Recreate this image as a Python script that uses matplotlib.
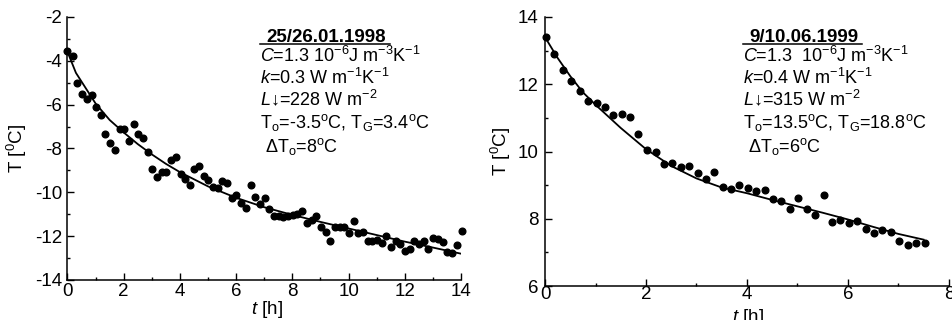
import matplotlib
matplotlib.use("Agg")
import matplotlib.pyplot as plt
from matplotlib.lines import Line2D
from matplotlib.ticker import MultipleLocator
from matplotlib.transforms import IdentityTransform

plt.rcParams['font.family'] = ['Liberation Sans', 'DejaVu Sans']
plt.rcParams['axes.unicode_minus'] = False
plt.rcParams['mathtext.fontset'] = 'custom'
plt.rcParams['mathtext.rm'] = 'Liberation Sans'
plt.rcParams['mathtext.it'] = 'Liberation Sans:italic'
plt.rcParams['mathtext.bf'] = 'Liberation Sans:bold'

# --- 25/26.01.1998 : medidas y ajuste ---
t_jan = [0.0, 0.19, 0.34, 0.52, 0.69, 0.86, 1.02, 1.19, 1.35, 1.52, 1.69, 1.85,
         2.02, 2.19, 2.35, 2.52, 2.69, 2.85, 3.02, 3.18, 3.35, 3.52, 3.68, 3.85,
         4.02, 4.18, 4.35, 4.51, 4.68, 4.85, 5.01, 5.18, 5.34, 5.51, 5.68, 5.84,
         6.01, 6.18, 6.34, 6.51, 6.68, 6.84, 7.01, 7.18, 7.34, 7.51, 7.68, 7.84,
         8.01, 8.18, 8.34, 8.51, 8.68, 8.85, 9.01, 9.18, 9.35, 9.51, 9.68, 9.85,
         10.01, 10.18, 10.35, 10.51, 10.68, 10.84, 11.01, 11.18, 11.34, 11.51,
         11.68, 11.84, 12.01, 12.18, 12.34, 12.51, 12.68, 12.84, 13.01, 13.18,
         13.34, 13.51, 13.68, 13.84, 14.04]
T_jan = [-3.54, -3.80, -5.02, -5.51, -5.76, -5.54, -6.12, -6.46, -7.36, -7.77,
         -8.08, -7.13, -7.10, -7.65, -6.90, -7.34, -7.50, -8.15, -8.95, -9.30,
         -9.07, -9.07, -8.53, -8.38, -9.15, -9.37, -9.68, -8.92, -8.80, -9.27,
         -9.42, -9.76, -9.80, -9.48, -9.59, -10.24, -10.14, -10.49, -10.72, -9.65,
         -10.21, -10.52, -10.24, -10.75, -11.10, -11.10, -11.13, -11.10, -11.05,
         -11.01, -10.85, -11.40, -11.28, -11.08, -11.56, -11.82, -12.20, -11.56,
         -11.56, -11.59, -11.85, -11.33, -11.85, -11.79, -12.23, -12.23, -12.17,
         -12.32, -11.97, -12.50, -12.23, -12.35, -12.66, -12.58, -12.23, -12.35,
         -12.20, -12.58, -12.08, -12.12, -12.27, -12.73, -12.78, -12.40, -11.77]
t_fit_jan = [0.05, 0.3, 0.6, 1.0, 1.5, 2.0, 2.5, 3.0, 3.5, 4.0, 5.0, 6.0, 7.0,
             8.0, 9.0, 10.0, 11.0, 12.0, 13.0, 14.0]
T_fit_jan = [-3.75, -4.55, -5.15, -5.95, -6.7, -7.27, -7.8, -8.27, -8.7, -9.08,
             -9.73, -10.25, -10.68, -11.03, -11.35, -11.65, -11.95, -12.25,
             -12.52, -12.8]

# --- 9/10.06.1999 ---
t_jun = [0.01, 0.18, 0.35, 0.52, 0.69, 0.85, 1.02, 1.19, 1.35, 1.52, 1.68, 1.85,
         2.01, 2.19, 2.35, 2.52, 2.69, 2.85, 3.02, 3.18, 3.35, 3.52, 3.69, 3.85,
         4.02, 4.18, 4.35, 4.52, 4.68, 4.85, 5.02, 5.19, 5.35, 5.52, 5.69, 5.85,
         6.02, 6.18, 6.35, 6.52, 6.68, 6.85, 7.02, 7.19, 7.35, 7.52]
T_jun = [13.40, 12.91, 12.43, 12.11, 11.81, 11.51, 11.43, 11.33, 11.10, 11.13,
         11.04, 10.51, 10.06, 10.00, 9.62, 9.65, 9.53, 9.56, 9.35, 9.19, 9.39,
         8.94, 8.90, 8.99, 8.91, 8.82, 8.85, 8.58, 8.52, 8.30, 8.62, 8.30, 8.10,
         8.70, 7.90, 7.95, 7.87, 7.94, 7.70, 7.59, 7.67, 7.60, 7.33, 7.23, 7.27,
         7.29]
t_fit_jun = [0.02, 0.25, 0.5, 0.75, 1.0, 1.5, 2.0, 2.5, 3.0, 3.5, 4.0, 4.5, 5.0,
             5.5, 6.0, 6.5, 7.0, 7.5]
T_fit_jun = [13.35, 12.78, 12.24, 11.76, 11.39, 10.70, 10.07, 9.57, 9.20, 8.93,
             8.76, 8.56, 8.37, 8.18, 7.98, 7.76, 7.55, 7.38]

lines_jan = [r'$C$=1.3 10$^{-6}$J m$^{-3}$K$^{-1}$',
             r'$k$=0.3 W m$^{-1}$K$^{-1}$',
             '$L$\u2193=228 W m$^{-2}$',
             r'T$_{\rm o}$=-3.5$^{\rm o}$C, T$_{\rm G}$=3.4$^{\rm o}$C',
             r' $\Delta$T$_{\rm o}$=8$^{\rm o}$C']
lines_jun = [r'$C$=1.3  10$^{-6}$J m$^{-3}$K$^{-1}$',
             r'$k$=0.4 W m$^{-1}$K$^{-1}$',
             '$L$\u2193=315 W m$^{-2}$',
             r'T$_{\rm o}$=13.5$^{\rm o}$C, T$_{\rm G}$=18.8$^{\rm o}$C',
             r' $\Delta$T$_{\rm o}$=6$^{\rm o}$C']

fig = plt.figure(figsize=(9.52, 3.2), dpi=100)
ax1 = fig.add_axes([0.0709, 0.125, 0.4134, 0.822])
ax2 = fig.add_axes([0.5725, 0.106, 0.4243, 0.841])


def estilo(ax, xlim, ylim, xmaj, ymaj, xpad, ypad):
    ax.set_xlim(*xlim)
    ax.set_ylim(*ylim)
    ax.xaxis.set_major_locator(MultipleLocator(xmaj))
    ax.xaxis.set_minor_locator(MultipleLocator(xmaj / 2))
    ax.yaxis.set_major_locator(MultipleLocator(ymaj))
    ax.yaxis.set_minor_locator(MultipleLocator(ymaj / 2))
    ax.spines['top'].set_visible(False)
    ax.spines['right'].set_visible(False)
    for s in ['left', 'bottom']:
        ax.spines[s].set_linewidth(1.1)
    ax.tick_params(which='major', direction='in', length=4.8, width=1.0,
                   labelsize=13.5)
    ax.tick_params(which='minor', direction='in', length=2.4, width=1.0)
    ax.tick_params(axis='x', which='major', pad=xpad)
    ax.tick_params(axis='y', which='major', pad=ypad)


estilo(ax1, (0, 14), (-14, -2), 2, 2, 2.0, 4.0)
estilo(ax2, (0, 8), (6, 14), 2, 2, 0.3, 4.8)

for ax, t, T, tf, Tf in [(ax1, t_jan, T_jan, t_fit_jan, T_fit_jan),
                         (ax2, t_jun, T_jun, t_fit_jun, T_fit_jun)]:
    ax.plot(t, T, 'o', color='black', markersize=4.8, clip_on=False, zorder=3)
    ax.plot(tf, Tf, '-', color='black', linewidth=1.3)
    ax.set_ylabel(r'T [$^{0}$C]', fontsize=13.5)
    ax.set_xlabel(r'$t$ [h]', fontsize=13.5)

ax1.yaxis.set_label_coords(-0.097, 0.5)
ax1.xaxis.set_label_coords(0.506, -0.072)
ax2.yaxis.set_label_coords(-0.079, 0.5)
ax2.xaxis.set_label_coords(0.502, -0.078)

titulos = []
ys = [62, 84, 105, 128, 152]
for ax, x0, titulo, lineas in [(ax1, 260, '25/26.01.1998', lines_jan),
                               (ax2, 743, '9/10.06.1999', lines_jun)]:
    h = fig.bbox.height
    tt = fig.text((x0 + 6) / fig.bbox.width, 1 - 42 / h, titulo,
                  fontsize=13.5, fontweight='bold', va='baseline')
    titulos.append((x0, tt))
    for y, s in zip(ys, lineas):
        fig.text(x0 / fig.bbox.width, 1 - y / h, s, fontsize=13,
                 va='baseline')

fig.canvas.draw()
for x0, tt in titulos:
    bb = tt.get_window_extent()
    yl = fig.bbox.height - 44
    fig.add_artist(Line2D([x0, bb.x1 + 4], [yl, yl], color='black',
                          linewidth=1.1, transform=IdentityTransform()))

fig.savefig('out.png', dpi=100)
